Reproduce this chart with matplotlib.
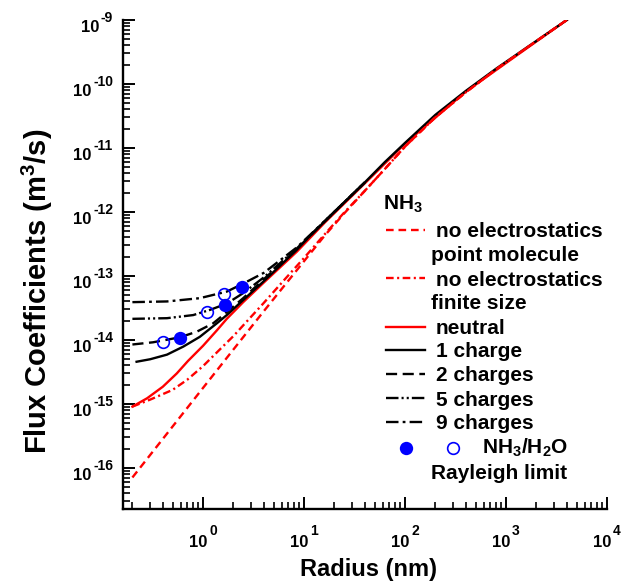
import numpy as np
import matplotlib
matplotlib.use('Agg')
import matplotlib.pyplot as plt
from matplotlib.lines import Line2D
from matplotlib.ticker import LogLocator, NullFormatter
from matplotlib.transforms import blended_transform_factory

plt.rcParams['font.family'] = ['Liberation Sans', 'DejaVu Sans']
plt.rcParams['font.weight'] = 'bold'
plt.rcParams['mathtext.fontset'] = 'custom'
plt.rcParams['mathtext.rm'] = 'Liberation Sans:bold'
plt.rcParams['mathtext.it'] = 'Liberation Sans:bold'
plt.rcParams['mathtext.bf'] = 'Liberation Sans:bold'
plt.rcParams['lines.scale_dashes'] = False

# ---------------------------------------------------------------------------
# Data: radius (nm) vs flux coefficient (m^3/s)
# ---------------------------------------------------------------------------
R_POINT = [0.2, 1, 2, 4, 10, 16, 25, 40, 63, 100, 200, 400, 800, 1600, 4000]
F_POINT = [7.1e-17, 1.78e-15, 7.1e-15, 2.82e-14, 1.70e-13, 4.27e-13, 9.5e-13,
           2.14e-12, 4.68e-12, 1.05e-11, 3.02e-11, 7.41e-11, 1.70e-10,
           3.67e-10, 1.0e-9]

R_FINITE = [0.2, 0.3, 0.5, 0.7, 1.0, 1.4, 2, 4, 6.3, 10, 16, 25, 40, 63, 100,
            200, 400, 800, 1600, 4000]
F_FINITE = [9.1e-16, 1.17e-15, 1.66e-15, 2.4e-15, 3.9e-15, 6.6e-15, 1.15e-14,
            3.8e-14, 8.5e-14, 1.91e-13, 4.47e-13, 9.8e-13, 2.14e-12, 4.68e-12,
            1.05e-11, 3.02e-11, 7.41e-11, 1.70e-10, 3.67e-10, 1.0e-9]

R_NEUTRAL = [0.2, 0.28, 0.4, 0.55, 0.71, 1.0, 1.37, 1.72, 2.5, 4, 8.5, 16, 40,
             100, 400, 1600, 4000]
F_NEUTRAL = [9.1e-16, 1.23e-15, 1.86e-15, 3.0e-15, 4.7e-15, 8.1e-15, 1.41e-14,
             2.14e-14, 3.9e-14, 7.9e-14, 2.4e-13, 6.8e-13, 2.8e-12, 1.17e-11,
             7.6e-11, 3.6e-10, 1.0e-9]

R_Q1 = [0.22, 0.3, 0.44, 0.64, 0.93, 1.37, 1.72, 4, 8.5, 10, 16, 25, 40, 63,
        100, 200, 400, 800, 1600, 4000]
F_Q1 = [4.57e-15, 5.0e-15, 5.9e-15, 7.9e-15, 1.12e-14, 1.82e-14, 2.45e-14,
        8.3e-14, 2.57e-13, 3.4e-13, 7.1e-13, 1.41e-12, 2.9e-12, 6.0e-12,
        1.2e-11, 3.3e-11, 7.8e-11, 1.74e-10, 3.7e-10, 1.0e-9]

R_Q2 = [0.2, 0.32, 0.59, 0.87, 1.26, 1.59, 2.5, 4, 8.5, 16, 40]
F_Q2 = [8.5e-15, 9.2e-15, 1.10e-14, 1.35e-14, 1.82e-14, 2.45e-14, 4.5e-14,
        8.9e-14, 2.63e-13, 7.1e-13, 2.9e-12]

R_Q5 = [0.2, 0.44, 0.8, 1.17, 1.72, 2.5, 4, 8.5, 16, 40]
F_Q5 = [2.14e-14, 2.19e-14, 2.45e-14, 2.95e-14, 3.7e-14, 5.4e-14, 9.5e-14,
        2.7e-13, 7.2e-13, 2.9e-12]

R_Q9 = [0.2, 0.44, 0.93, 1.72, 2.5, 4, 8.5, 16, 40]
F_Q9 = [3.9e-14, 4.0e-14, 4.5e-14, 5.7e-14, 7.6e-14, 1.12e-13, 2.8e-13,
        7.2e-13, 2.9e-12]

# Rayleigh limit points (NH3 / H2O)
R_RAY_NH3 = [0.59, 1.65, 2.45]
F_RAY_NH3 = [1.09e-14, 3.5e-14, 6.65e-14]
R_RAY_H2O = [0.40, 1.10, 1.63]
F_RAY_H2O = [9.3e-15, 2.77e-14, 5.2e-14]

X_DECADES = [0, 1, 2, 3, 4]
Y_DECADES = [-16, -15, -14, -13, -12, -11, -10, -9]

# ---------------------------------------------------------------------------
# Styles
# ---------------------------------------------------------------------------
RED = '#ff0000'
BLUE = '#0000ff'
LW = 1.7
DASH_RED = (5.5, 3.5)
DASHDOT_RED = (5.5, 2.5, 1.5, 2.5)
DASH_BLK = (8, 4)
DDOT_BLK = (9, 2.2, 1.5, 2.2, 1.5, 2.2)
DDOT9_BLK = (9, 3, 2, 3)

W, H = 629, 585
fig = plt.figure(figsize=(W / 100, H / 100), dpi=100)
ax = fig.add_axes([123 / W, 1 - 509.3 / H, (607 - 123) / W, (509.3 - 20) / H])
ax.set_xscale('log')
ax.set_yscale('log')

ax.plot(R_NEUTRAL, F_NEUTRAL, color=RED, lw=LW, zorder=2)
ax.plot(R_Q1, F_Q1, color='black', lw=LW, zorder=3)
ax.plot(R_Q2, F_Q2, color='black', lw=LW, dashes=DASH_BLK, zorder=3)
ax.plot(R_Q5, F_Q5, color='black', lw=LW, dashes=DDOT_BLK, zorder=3)
ax.plot(R_Q9, F_Q9, color='black', lw=LW, dashes=DDOT9_BLK, zorder=3)
ax.plot(R_POINT, F_POINT, color=RED, lw=LW, dashes=DASH_RED, zorder=4)
ax.plot(R_FINITE, F_FINITE, color=RED, lw=LW, dashes=DASHDOT_RED, zorder=4)
ax.plot(R_RAY_NH3, F_RAY_NH3, 'o', color=BLUE, ms=9.6, mew=0, zorder=5)
ax.plot(R_RAY_H2O, F_RAY_H2O, 'o', mfc='none', mec=BLUE, ms=8.4, mew=1.2,
        zorder=5)

ax.set_xlim(0.1614, 1e4)
ax.set_ylim(2.26e-17, 1e-9)

for s in ('top', 'right'):
    ax.spines[s].set_visible(False)
for s in ('left', 'bottom'):
    ax.spines[s].set_linewidth(1.7)

for axis in (ax.xaxis, ax.yaxis):
    axis.set_major_locator(LogLocator(base=10, numticks=30))
    axis.set_minor_locator(LogLocator(base=10, subs=np.arange(2, 10),
                                      numticks=200))
    axis.set_minor_formatter(NullFormatter())
ax.tick_params(which='both', direction='in', top=False, right=False,
               labelbottom=False, labelleft=False)
ax.tick_params(which='major', length=8.6, width=1.4)
ax.tick_params(which='minor', length=4.7, width=1.2)

# --- tick labels: "10" with raised exponent ---
BASE_FS, EXP_FS = 12, 10
GLYPH_W = {'-': 0.333}


def text_w(s, fs):
    return sum(GLYPH_W.get(c, 0.556) for c in s) * fs


tx = blended_transform_factory(ax.transData, ax.transAxes)
for k in X_DECADES:
    exp = str(k)
    wb, we = text_w('10', BASE_FS), text_w(exp, EXP_FS)
    x0 = -(wb + 1 + we) / 2
    ax.annotate('10', xy=(10.0 ** k, 0), xycoords=tx, xytext=(x0, -26.9),
                textcoords='offset points', ha='left', va='baseline',
                fontsize=BASE_FS, annotation_clip=False)
    ax.annotate(exp, xy=(10.0 ** k, 0), xycoords=tx,
                xytext=(x0 + wb + 1, -18.5), textcoords='offset points',
                ha='left', va='baseline', fontsize=EXP_FS,
                annotation_clip=False)

ty = blended_transform_factory(ax.transAxes, ax.transData)
for k in Y_DECADES:
    exp = str(k)
    we = text_w(exp, EXP_FS)
    ax.annotate('10', xy=(0, 10.0 ** k), xycoords=ty,
                xytext=(-7.2 - we - 1, -8.4), textcoords='offset points',
                ha='right', va='baseline', fontsize=BASE_FS,
                annotation_clip=False)
    ax.annotate(exp, xy=(0, 10.0 ** k), xycoords=ty, xytext=(-7.2, -1.2),
                textcoords='offset points', ha='right', va='baseline',
                fontsize=EXP_FS, annotation_clip=False)

# --- axis titles ---
fig.text(369 / W, 1 - 576 / H, 'Radius (nm)', ha='center', va='baseline',
         fontsize=17)
fig.text(37 / W, 1 - 291 / H, 'Flux Coefficients (m$^3$/s)', rotation=90,
         ha='center', va='center', fontsize=21)

# --- legend, laid out by hand ---
LEG_FS = 15


def fx(px):
    return px / W


def fy(py):
    return 1 - py / H


fig.text(fx(383), fy(210), 'NH$_3$', fontsize=LEG_FS, va='baseline')

legend_rows = [
    (230.0, dict(color=RED, dashes=DASH_RED), 'no electrostatics', 'point molecule'),
    (278.3, dict(color=RED, dashes=DASHDOT_RED), 'no electrostatics', 'finite size'),
    (326.7, dict(color=RED), 'neutral', None),
    (350.0, dict(color='black'), '1 charge', None),
    (374.0, dict(color='black', dashes=DASH_BLK), '2 charges', None),
    (398.3, dict(color='black', dashes=DDOT_BLK), '5 charges', None),
    (421.7, dict(color='black', dashes=DDOT9_BLK), '9 charges', None),
]
for y, style, first, second in legend_rows:
    fig.add_artist(Line2D([fx(386), fx(425)], [fy(y), fy(y)], lw=LW, **style))
    fig.text(fx(436), fy(y + 7.3), first, fontsize=LEG_FS, va='baseline')
    if second:
        fig.text(fx(431), fy(y + 30.7), second, fontsize=LEG_FS,
                 va='baseline')

fig.add_artist(Line2D([fx(406)], [fy(447.7)], marker='o', color=BLUE,
                      ms=9.6, mew=0, ls='none'))
fig.add_artist(Line2D([fx(452.7)], [fy(447.7)], marker='o', mfc='none',
                      mec=BLUE, ms=8.4, mew=1.2, ls='none'))
fig.text(fx(482), fy(453.3), 'NH$_3$/H$_2$O', fontsize=LEG_FS, va='baseline')
fig.text(fx(431), fy(479.3), 'Rayleigh limit', fontsize=LEG_FS, va='baseline')

fig.savefig('out.png', dpi=100)
